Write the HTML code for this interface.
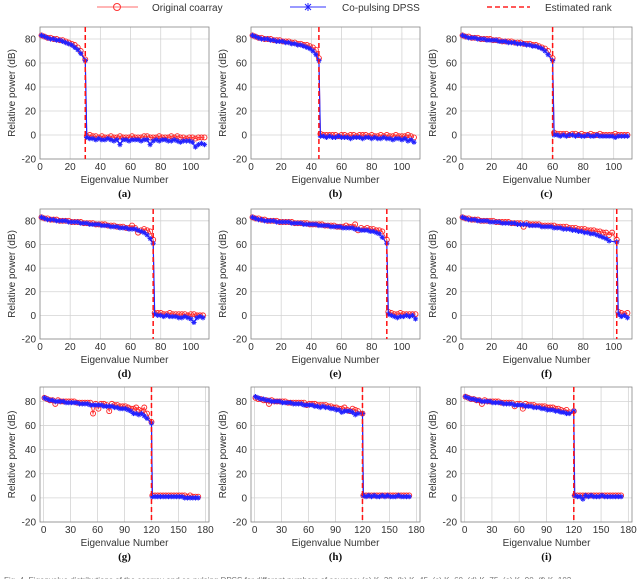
<!DOCTYPE html>
<html><head><meta charset="utf-8">
<style>
html,body{margin:0;padding:0;background:#fff;}
svg{display:block;font-family:"Liberation Sans",sans-serif;}
.tk{font-size:10px;fill:#333;}
.lab{font-size:10px;fill:#333;}
.pl{font-family:"Liberation Serif",serif;font-weight:bold;font-size:11px;fill:#111;}
</style></head>
<body>
<svg id="fig" width="640" height="579" viewBox="0 0 640 579">
  <g>
    <g>
      <line x1="97" y1="7" x2="138" y2="7" stroke="#ff6b6b" stroke-width="1"/>
      <circle cx="117" cy="7" r="3.5" fill="none" stroke="#f33" stroke-width="1"/>
      <text x="152" y="11" class="lab">Original coarray</text>
    </g>
    <g>
      <line x1="290" y1="7" x2="326" y2="7" stroke="#33f" stroke-width="1"/>
      <g stroke="#22f" stroke-width="1"><line x1="304" y1="7" x2="312" y2="7"/><line x1="308" y1="3" x2="308" y2="11"/><line x1="305" y1="4" x2="311" y2="10"/><line x1="311" y1="4" x2="305" y2="10"/></g>
      <text x="342" y="11" class="lab">Co-pulsing DPSS</text>
    </g>
    <g>
      <line x1="487" y1="7" x2="530" y2="7" stroke="#f22" stroke-width="1.5" stroke-dasharray="5,3"/>
      <text x="545" y="11" class="lab">Estimated rank</text>
    </g>
  </g>
  <g id="panels"></g>
  <text x="4" y="583" style="font-size:8px;fill:#777">Fig. 4.  Eigenvalue distributions of the coarray and co-pulsing DPSS for different numbers of sources: (a) K=30, (b) K=45, (c) K=60, (d) K=75, (e) K=90, (f) K=102 ...</text>
</svg>
<script>
// ranks (estimated rank per panel)
const ranks = [30,45,60,75,90,102,120,120,120];
const panelLabels = ["(a)","(b)","(c)","(d)","(e)","(f)","(g)","(h)","(i)"];
const xTicksSmall = [0,20,40,60,80,100];
const xTicksLarge = [0,30,60,90,120,150,180];
const yTicks = [-20,0,20,40,60,80];
// signal-subspace eigenvalues (dB), original coarray
const sigO_a = [83,82,81,81,80,80,79,79,78,77,76,75,73,70,63];
const sigO_b = [83,82,81,81,80,80,80,79,79,79,78,78,78,77,77,76,76,75,75,74,73,71,64];
const sigO_c = [83,82,82,81,81,81,80,80,80,80,79,79,79,78,78,78,78,77,77,77,76,76,76,75,75,74,73,72,70,64];
const sigO_d = [83,82,82,81,81,81,80,80,80,80,79,79,79,79,78,78,78,78,77,77,77,77,76,76,76,75,75,75,74,74,76,74,70,72,73,72,71,64];
const sigO_e = [83,82,82,81,81,80,80,80,80,79,79,79,79,79,78,78,78,78,78,77,77,77,77,77,76,76,76,76,75,75,75,76,75,75,77,72,74,73,74,73,73,72,72,71,64];
const sigO_f = [83,82,82,81,81,81,80,80,80,80,80,79,79,79,79,79,78,78,78,78,75,78,77,77,77,77,76,76,76,76,76,75,75,75,75,74,74,74,73,73,73,72,72,72,71,71,70,70,68,70,64];
const sigO_g = [83,82,81,81,78,81,80,80,80,80,80,80,79,79,79,79,79,79,70,78,74,78,78,77,72,78,77,77,76,76,76,75,74,74,75,73,72,75,70,63];
const sigO_h = [83,82,82,81,81,78,81,80,80,80,80,80,79,79,79,79,79,79,79,77,78,78,78,77,77,77,77,76,76,75,75,74,74,75,73,72,74,73,72,70];
const sigO_i = [84,83,82,82,81,81,78,81,80,80,80,80,80,79,79,79,79,79,76,78,78,74,78,77,77,77,76,76,76,76,75,75,75,74,74,73,72,73,71,72];
// signal-subspace eigenvalues (dB), co-pulsing DPSS
const sigD_a = [83,82,81,80,80,79,79,78,77,76,75,73,71,68,62];
const sigD_b = [83,82,81,80,80,80,79,79,78,78,78,77,77,76,76,75,75,74,73,72,70,67,62];
const sigD_c = [83,82,81,81,81,80,80,80,79,79,79,79,78,78,78,77,77,77,76,76,76,75,75,74,74,73,72,70,67,62];
const sigD_d = [83,82,81,81,81,80,80,80,80,79,79,79,79,78,78,78,77,77,77,77,76,76,76,75,75,75,74,74,74,73,73,73,72,71,70,68,65,61];
const sigD_e = [83,82,81,81,80,80,80,80,79,79,79,79,79,78,78,78,78,77,77,77,77,77,76,76,76,76,75,75,75,75,74,74,74,74,73,73,72,72,72,71,71,70,69,66,61];
const sigD_f = [83,82,81,81,81,80,80,80,80,79,79,79,79,78,78,78,78,78,77,77,77,77,76,76,76,76,75,75,75,75,74,74,74,73,73,73,72,72,71,71,70,70,69,69,68,67,66,65,63,62];
const sigD_g = [83,82,81,81,80,80,80,80,79,79,79,79,79,78,78,78,78,77,77,77,77,77,76,76,76,76,75,75,74,74,74,73,72,70,70,69,70,68,66,62];
const sigD_h = [84,83,82,82,81,81,80,80,80,80,79,79,79,79,78,78,78,78,77,77,77,77,76,76,75,76,75,75,74,74,73,73,71,72,72,72,71,69,70,70];
const sigD_i = [84,83,82,82,81,81,80,80,80,80,79,79,79,79,78,78,78,78,77,77,77,77,76,76,76,75,75,75,74,74,73,73,73,72,72,71,71,70,70,72];
// noise-subspace eigenvalues (dB), original coarray
const noiO_a = [-1,0,-1,-1,-2,-1,-2,-2,-1,-2,-2,-1,-2,-2,-2,-1,-2,-2,-2,-1,-1,-2,-2,-2,-1,-2,-2,-2,-1,-2,-1,-2,-2,-3,-2,-2,-3,-2,-2,-2];
const noiO_b = [1,0,0,0,0,0,-1,0,0,-1,0,0,-1,0,0,0,-1,0,-1,-1,0,-1,0,-1,-1,0,-1,-1,-1,0,-1,-2];
const noiO_c = [2,1,1,1,1,0,1,1,0,1,0,0,1,0,0,1,0,0,0,0,1,0,0,0,0];
const noiO_d = [2,2,2,1,1,2,1,1,1,1,1,0,1,1,0,0,0];
const noiO_e = [3,2,1,1,2,1,1,1,1,1];
const noiO_f = [3,2,1,2];
const noiO_g = [2,2,2,2,2,2,2,2,2,2,2,2,2,1,2,1,1,1];
const noiO_h = [2,2,2,2,2,2,2,2,2,2,2,2,2,2,2,2,2,2];
const noiO_i = [2,2,2,2,2,2,2,2,2,2,2,2,2,2,2,2,2,2];
// noise-subspace eigenvalues (dB), co-pulsing DPSS
const noiD_a = [-2,-3,-3,-4,-3,-4,-4,-3,-4,-5,-4,-8,-4,-4,-5,-4,-4,-4,-5,-4,-4,-8,-5,-4,-5,-4,-4,-5,-5,-4,-5,-6,-5,-5,-5,-6,-10,-8,-7,-8];
const noiD_b = [-1,-1,-2,-1,-2,-2,-1,-2,-2,-2,-3,-2,-2,-2,-3,-2,-2,-3,-2,-3,-3,-2,-3,-3,-4,-3,-3,-4,-3,-5,-4,-6];
const noiD_c = [0,0,-1,0,-1,0,0,-1,0,-1,-1,0,-1,-1,0,-1,-1,-1,-1,-1,-2,-1,-1,-1,-1];
const noiD_d = [1,0,0,-1,0,-1,-1,-1,-2,-2,-1,-2,-3,-6,-2,-1,-2];
const noiD_e = [1,0,-1,-2,-1,-1,0,-1,0,-3];
const noiD_f = [1,-1,0,-2];
const noiD_g = [1,1,1,1,1,1,1,1,1,1,1,1,0,0,0,0,0,0];
const noiD_h = [2,1,2,1,2,1,1,2,1,2,1,1,1,2,1,1,1,1];
const noiD_i = [2,1,1,-1,2,1,2,1,1,1,2,1,1,1,1,1,1,1];

const sigO=[sigO_a,sigO_b,sigO_c,sigO_d,sigO_e,sigO_f,sigO_g,sigO_h,sigO_i];
const sigD=[sigD_a,sigD_b,sigD_c,sigD_d,sigD_e,sigD_f,sigD_g,sigD_h,sigD_i];
const noiO=[noiO_a,noiO_b,noiO_c,noiO_d,noiO_e,noiO_f,noiO_g,noiO_h,noiO_i];
const noiD=[noiD_a,noiD_b,noiD_c,noiD_d,noiD_e,noiD_f,noiD_g,noiD_h,noiD_i];

const NS="http://www.w3.org/2000/svg";
const cols=[[40,209],[251,420],[461,632]];
const rows=[[27,159],[209,339],[387,522]];
function mk(tag,attrs,parent){const e=document.createElementNS(NS,tag);for(const k in attrs)e.setAttribute(k,attrs[k]);parent.appendChild(e);return e;}
const root=document.getElementById('panels');
for(let p=0;p<9;p++){
  const r=Math.floor(p/3), c=p%3;
  const [L,R]=cols[c], [T,B]=rows[r];
  const big = r===2;
  const xmin = big?-4:0, xmax = big?184:112;
  const ymin=-20, ymax = big?92:90;
  const step = big?3:2;
  const xs=v=>L+(v-xmin)/(xmax-xmin)*(R-L);
  const ys=v=>B-(v-ymin)/(ymax-ymin)*(B-T);
  const g=mk('g',{},root);
  
  
  const xt = big?xTicksLarge:xTicksSmall;
  const grid=mk('g',{},g);
  
  
  xt.forEach(t=>{const x=xs(t);mk('line',{x1:x,x2:x,y1:T,y2:B,stroke:'#d4d4d4','stroke-width':0.8},grid);
    const tx=mk('text',{x:x,y:B+11,'text-anchor':'middle',class:'tk'},g);tx.textContent=t;
    
    });
  yTicks.forEach(t=>{const y=ys(t);mk('line',{x1:L,x2:R,y1:y,y2:y,stroke:'#d4d4d4','stroke-width':0.8},grid);
    const ty=mk('text',{x:L-4,y:y+3.5,'text-anchor':'end',class:'tk'},g);ty.textContent=t;
    
    });
  const box=mk('rect',{x:L,y:T,width:R-L,height:B-T,fill:'none',stroke:'#888','stroke-width':0.8},g);
  
  
  const K=ranks[p];
  function pts(sig,noi){
    const a=[];
    sig.forEach((v,i)=>{let x=1+i*step; if(i===sig.length-1) x=K; a.push([x,v]);});
    noi.forEach((v,i)=>{a.push([K+1+i*step,v]);});
    return a;
  }
  const po=pts(sigO[p],noiO[p]), pd=pts(sigD[p],noiD[p]);
  const so=mk('g',{},g);
  
  
  mk('polyline',{points:po.map(q=>xs(q[0])+','+ys(q[1])).join(' '),fill:'none',stroke:'#f44','stroke-width':1},so);
  po.forEach(q=>{mk('circle',{cx:xs(q[0]),cy:ys(q[1]),r:2.5,fill:'none',stroke:'#f22','stroke-width':0.9},so);});
  const sd=mk('g',{},g);
  
  
  mk('polyline',{points:pd.map(q=>xs(q[0])+','+ys(q[1])).join(' '),fill:'none',stroke:'#22f','stroke-width':1.2},sd);
  pd.forEach(q=>{const x=xs(q[0]),y=ys(q[1]),s=2.6;
    mk('path',{d:`M${x-s},${y}H${x+s}M${x},${y-s}V${y+s}M${x-s*0.7},${y-s*0.7}L${x+s*0.7},${y+s*0.7}M${x+s*0.7},${y-s*0.7}L${x-s*0.7},${y+s*0.7}`,stroke:'#22f','stroke-width':1},sd);});
  const rk=mk('line',{x1:xs(K),x2:xs(K),y1:T,y2:B,stroke:'#f11','stroke-width':1.5,'stroke-dasharray':'5,3'},g);
  
  
  const yl=mk('text',{x:0,y:0,'text-anchor':'middle',class:'lab',transform:`translate(${L-25},${(T+B)/2}) rotate(-90)`},g);
  yl.textContent='Relative power (dB)';
  
  
  const xl=mk('text',{x:(L+R)/2,y:B+24,'text-anchor':'middle',class:'lab'},g);
  xl.textContent='Eigenvalue Number';
  
  
  const pl=mk('text',{x:(L+R)/2,y:B+38,'text-anchor':'middle',class:'pl'},g);
  pl.textContent=panelLabels[p];
  
  
}
</script>
</body></html>
